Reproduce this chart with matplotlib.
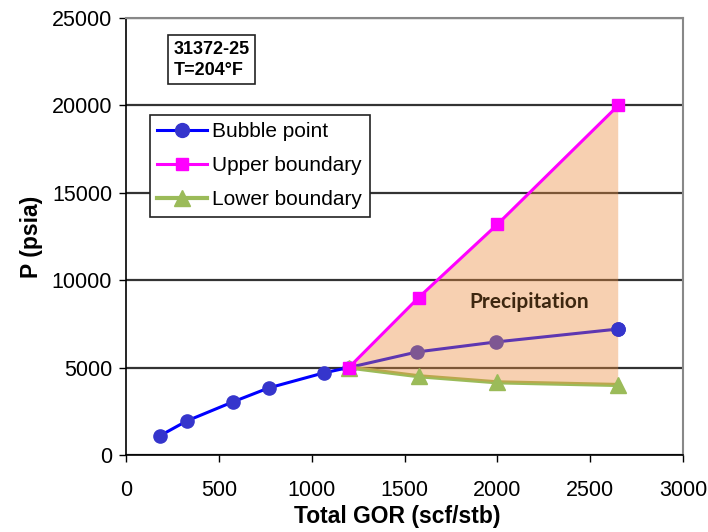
import matplotlib
matplotlib.use("Agg")
import matplotlib.pyplot as plt
import numpy as np

# Bubble point curve
bp_gor = [182, 327, 575, 768, 1064, 1200, 1567, 1990, 2647]
bp_p = [1090, 1940, 3030, 3830, 4690, 5000, 5890, 6460, 7200]

# Precipitation envelope
ub_gor = [1200, 1575, 2000, 2650]
ub_p = [5000, 9000, 13200, 20000]
lb_gor = [1200, 1575, 2000, 2650]
lb_p = [5000, 4500, 4150, 4000]

x_ticks = [0, 500, 1000, 1500, 2000, 2500, 3000]
y_ticks = [0, 5000, 10000, 15000, 20000, 25000]

plt.rcParams['font.family'] = ['Liberation Sans', 'DejaVu Sans']

fig = plt.figure(figsize=(7.08, 5.32), dpi=100)
ax = fig.add_axes([0.178, 0.145, 0.787, 0.821])

ax.set_xlim(0, 3000)
ax.set_ylim(0, 25000)
ax.set_xticks(x_ticks)
ax.set_yticks(y_ticks)
ax.tick_params(labelsize=15.5, direction='out', length=5, width=1, colors='black', pad=5)
ax.tick_params(axis='x', pad=13)

ax.yaxis.grid(True, color='#333333', linewidth=1.6, zorder=1)
ax.set_axisbelow(True)

for s in ['left', 'bottom']:
    ax.spines[s].set_color('black')
    ax.spines[s].set_linewidth(1.2)
for s in ['top', 'right']:
    ax.spines[s].set_color('#888888')
    ax.spines[s].set_linewidth(1.5)

# bubble point
ax.plot(bp_gor, bp_p, color='#0000FF', lw=2.2, marker='o', ms=9.5,
        mfc='#3535CC', mec='#3535CC', zorder=2, label='Bubble point')
# lower boundary line
ax.plot(lb_gor, lb_p, color='#9BBB59', lw=3, zorder=2)

# shaded precipitation region
poly_x = np.concatenate([ub_gor, lb_gor[::-1]])
poly_y = np.concatenate([ub_p, lb_p[::-1]])
ax.fill(poly_x, poly_y, color='#EC8B3C', alpha=0.4, lw=0, zorder=3)

ax.plot(bp_gor[-1:], bp_p[-1:], ls='none', marker='o', ms=9.5,
        mfc='#3535CC', mec='#3535CC', zorder=4)
ax.plot(lb_gor, lb_p, ls='none', marker='^', ms=11.5,
        mfc='#9BBB59', mec='#9BBB59', zorder=5)
ax.plot(ub_gor, ub_p, color='#FF00FF', lw=2.2, marker='s', ms=9,
        mfc='#FF00FF', mec='#FF00FF', zorder=5)

# legend handles
h_bp, = ax.plot([], [], color='#0000FF', lw=2.2, marker='o', ms=10,
                mfc='#3535CC', mec='#3535CC')
h_ub, = ax.plot([], [], color='#FF00FF', lw=2.2, marker='s', ms=9,
                mfc='#FF00FF', mec='#FF00FF')
h_lb, = ax.plot([], [], color='#9BBB59', lw=3, marker='^', ms=11,
                mfc='#9BBB59', mec='#9BBB59')
leg = ax.legend([h_bp, h_ub, h_lb], ['Bubble point', 'Upper boundary', 'Lower boundary'],
                loc='upper left', bbox_to_anchor=(0.043, 0.778), fontsize=15,
                frameon=True, fancybox=False, edgecolor='#222222', framealpha=1,
                handlelength=2.4, handletextpad=0.25, borderpad=0.35,
                labelspacing=0.72, borderaxespad=0)
leg.get_frame().set_linewidth(1.2)
leg.set_zorder(6)

ax.text(0.085, 0.948, '31372-25\nT=204°F', transform=ax.transAxes,
        fontsize=13, fontweight='bold', va='top', ha='left', linespacing=1.3,
        bbox=dict(boxstyle='square,pad=0.3', fc='white', ec='#222222', lw=1.2),
        zorder=6)

ax.text(2170, 8750, 'Precipitation', fontsize=15, fontweight='bold',
        family=['Lato', 'DejaVu Sans'], color='#3D2710', ha='center', va='center',
        zorder=6)

ax.set_xlabel('Total GOR (scf/stb)', fontsize=16.5, fontweight='bold', labelpad=6)
ax.xaxis.set_label_coords(0.487, -0.115)
ax.set_ylabel('P (psia)', fontsize=16.5, fontweight='bold', labelpad=6)

fig.savefig('out.png', dpi=100)
